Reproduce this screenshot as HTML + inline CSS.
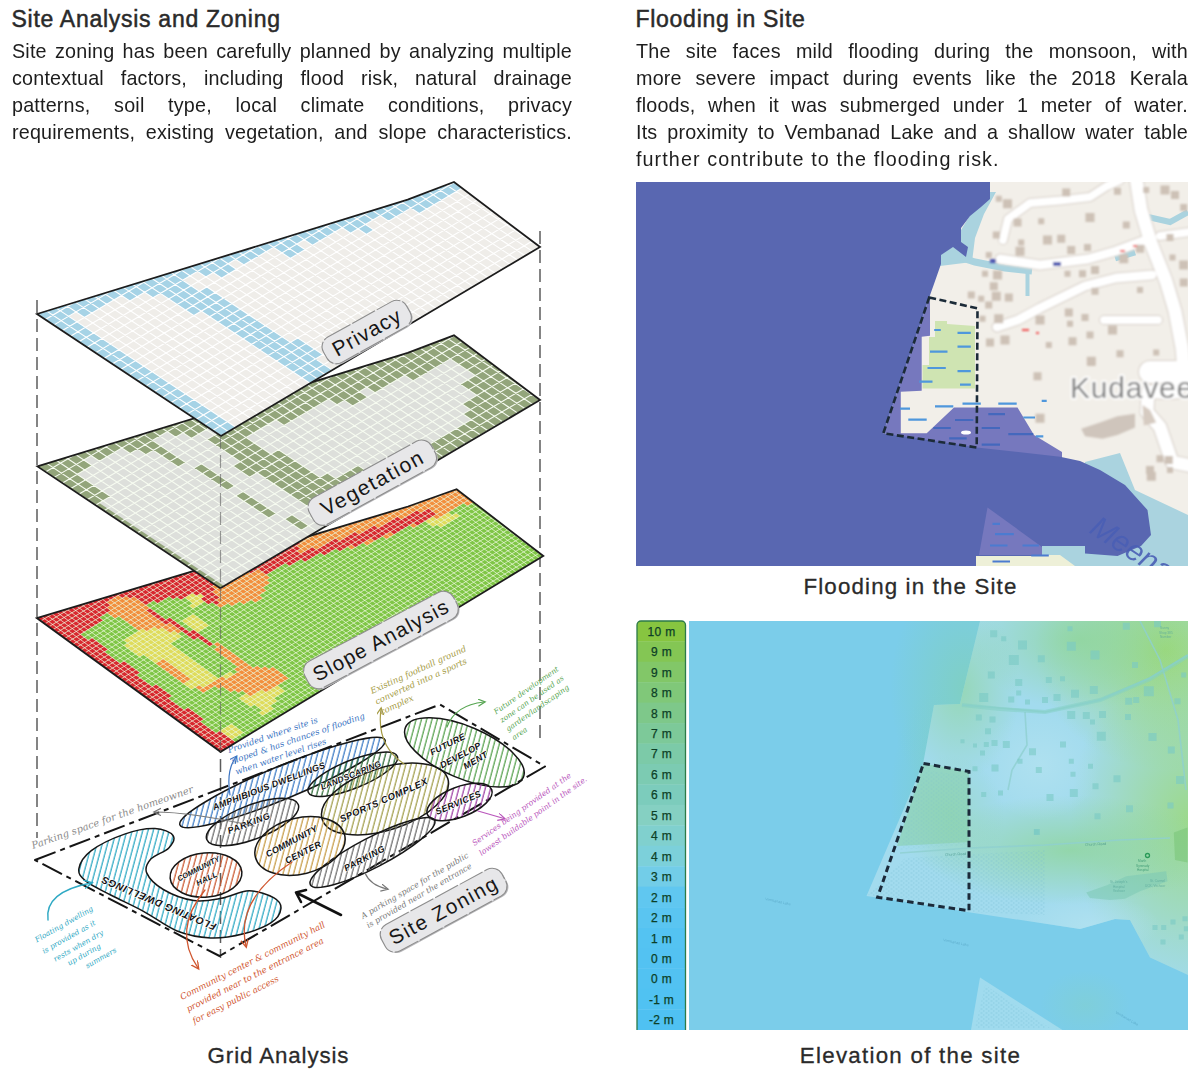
<!DOCTYPE html><html><head><meta charset="utf-8"><title>Site Analysis and Zoning</title><style>
html,body{margin:0;padding:0;background:#fff}
body{width:1200px;height:1084px;position:relative;overflow:hidden;font-family:"Liberation Sans",sans-serif;color:#222}
.t{position:absolute;font-size:23px;letter-spacing:0.72px;white-space:nowrap;color:#2a2a2a;-webkit-text-stroke:0.5px #2a2a2a}
.p{position:absolute;font-size:21px;line-height:27.05px;letter-spacing:0.2px;color:#1d1d1d;transform:scaleX(0.94);transform-origin:0 0}
.p div{text-align:justify;text-align-last:justify;white-space:nowrap;height:27.05px}
.p div.last{text-align-last:left}
.c{position:absolute;font-size:22.3px;white-space:nowrap;color:#2a2a2a;text-align:center;-webkit-text-stroke:0.3px #2a2a2a}
svg{position:absolute;left:0;top:0}
svg text{font-family:"Liberation Sans",sans-serif}
.hw text{font-family:"DejaVu Serif","Liberation Serif",serif;font-style:italic}
</style></head><body>
<div class="t" style="left:11.5px;top:5.5px">Site Analysis and Zoning</div>
<div class="p" style="left:12px;top:36.9px;width:595.7px"><div>Site zoning has been carefully planned by analyzing multiple</div><div>contextual factors, including flood risk, natural drainage</div><div>patterns, soil type, local climate conditions, privacy</div><div>requirements, existing vegetation, and slope characteristics.</div></div>
<div class="t" style="left:635.5px;top:5.5px">Flooding in Site</div>
<div class="p" style="left:636px;top:36.9px;width:587.2px"><div>The site faces mild flooding during the monsoon, with</div><div>more severe impact during events like the 2018 Kerala</div><div>floods, when it was submerged under 1 meter of water.</div><div>Its proximity to Vembanad Lake and a shallow water table</div><div class="last" style="letter-spacing:1.15px">further contribute to the flooding risk.</div></div>
<div class="c" style="left:760.5px;width:300px;top:573.7px;letter-spacing:1.16px">Flooding in the Site</div>
<div class="c" style="left:760.5px;width:300px;top:1042.6px;letter-spacing:1.27px">Elevation of the site</div>
<div class="c" style="left:128.5px;width:300px;top:1042.6px;letter-spacing:0.9px">Grid Analysis</div>
<svg width="1200" height="1084" viewBox="0 0 1200 1084">
<defs></defs>
<line x1="37" y1="300" x2="37" y2="838" stroke="#5c5c5c" stroke-width="1.5" stroke-dasharray="13 6" opacity="1"/>
<line x1="540" y1="231" x2="540" y2="742" stroke="#5c5c5c" stroke-width="1.5" stroke-dasharray="13 6" opacity="1"/>
<line x1="220.5" y1="436" x2="220.5" y2="958" stroke="#5c5c5c" stroke-width="1.5" stroke-dasharray="13 6" opacity="1"/>
<defs>
<pattern id="h_fut" width="5.1" height="10" patternUnits="userSpaceOnUse" patternTransform="rotate(15)"><path d="M1 0V10" stroke="#58a24f" stroke-width="1.25"/></pattern>
<pattern id="h_spo" width="5.1" height="10" patternUnits="userSpaceOnUse" patternTransform="rotate(15)"><path d="M1 0V10" stroke="#a3a04e" stroke-width="1.25"/></pattern>
<pattern id="h_ser" width="5.1" height="10" patternUnits="userSpaceOnUse" patternTransform="rotate(15)"><path d="M1 0V10" stroke="#a044a6" stroke-width="1.25"/></pattern>
<pattern id="h_lan" width="5.1" height="10" patternUnits="userSpaceOnUse" patternTransform="rotate(15)"><path d="M1 0V10" stroke="#2f6d38" stroke-width="1.25"/></pattern>
<pattern id="h_amp" width="5.1" height="10" patternUnits="userSpaceOnUse" patternTransform="rotate(15)"><path d="M1 0V10" stroke="#3d7cc6" stroke-width="1.25"/></pattern>
<pattern id="h_par" width="5.1" height="10" patternUnits="userSpaceOnUse" patternTransform="rotate(15)"><path d="M1 0V10" stroke="#6e6e6e" stroke-width="1.25"/></pattern>
<pattern id="h_cen" width="5.1" height="10" patternUnits="userSpaceOnUse" patternTransform="rotate(15)"><path d="M1 0V10" stroke="#c79d48" stroke-width="1.25"/></pattern>
<pattern id="h_hal" width="5.1" height="10" patternUnits="userSpaceOnUse" patternTransform="rotate(15)"><path d="M1 0V10" stroke="#cb5a32" stroke-width="1.25"/></pattern>
<pattern id="h_flo" width="5.1" height="10" patternUnits="userSpaceOnUse" patternTransform="rotate(15)"><path d="M1 0V10" stroke="#2fa9c4" stroke-width="1.25"/></pattern>
</defs>
<polygon points="35.0,860.0 440.0,704.5 545.0,766.5 219.5,956.0" fill="none" stroke="#151515" stroke-width="2" stroke-dasharray="22 5 5 5" stroke-linejoin="round"/>
<path d="M78.9 868.7C79.8 863.6 83.7 856.5 91.3 850.7C98.9 844.9 113.9 837.8 124.6 834.1C135.2 830.4 146.9 828.3 155.0 828.6C163.1 828.8 170.7 832.3 173.0 835.5C175.3 838.7 172.5 844.0 168.8 847.9C165.1 851.9 154.5 854.9 150.8 859.0C147.2 863.2 144.6 867.8 146.7 872.9C148.8 877.9 155.5 884.8 163.3 889.5C171.1 894.1 184.1 899.1 193.7 900.5C203.4 902.0 212.2 899.9 221.4 898.3C230.6 896.7 240.3 890.9 249.1 890.8C257.9 890.8 268.7 894.8 274.0 897.8C279.3 900.8 281.4 904.7 280.9 908.8C280.5 913.0 277.5 918.5 271.2 922.7C265.0 926.8 253.7 931.2 243.6 933.7C233.4 936.3 221.4 938.4 210.4 937.9C199.3 937.4 188.2 935.4 177.1 931.0C166.1 926.6 155.0 917.6 143.9 911.6C132.9 905.6 120.4 900.1 110.7 895.0C101.0 889.9 91.1 885.5 85.8 881.2C80.5 876.8 78.0 873.8 78.9 868.7Z" fill="url(#h_flo)" stroke="#161616" stroke-width="1.5"/>
<pattern id="he1" width="5.1" height="10" patternUnits="userSpaceOnUse" patternTransform="rotate(37.5)"><path d="M1 0V10" stroke="#3d7cc6" stroke-width="1.25"/></pattern><g transform="translate(282.5 782.5) rotate(-22.5)"><ellipse rx="111" ry="16.5" fill="url(#he1)" stroke="#161616" stroke-width="1.5"/></g>
<pattern id="he2" width="5.1" height="10" patternUnits="userSpaceOnUse" patternTransform="rotate(37)"><path d="M1 0V10" stroke="#2f6d38" stroke-width="1.25"/></pattern><g transform="translate(352.8 774.3) rotate(-22)"><ellipse rx="48" ry="14" fill="url(#he2)" stroke="#161616" stroke-width="1.5"/></g>
<pattern id="he3" width="5.1" height="10" patternUnits="userSpaceOnUse" patternTransform="rotate(36)"><path d="M1 0V10" stroke="#6e6e6e" stroke-width="1.25"/></pattern><g transform="translate(252.5 822) rotate(-21)"><ellipse rx="49" ry="17" fill="url(#he3)" stroke="#161616" stroke-width="1.5"/></g>
<pattern id="he4" width="5.1" height="10" patternUnits="userSpaceOnUse" patternTransform="rotate(-8)"><path d="M1 0V10" stroke="#58a24f" stroke-width="1.25"/></pattern><g transform="translate(464.4 752.4) rotate(23)"><ellipse rx="64" ry="26" fill="url(#he4)" stroke="#161616" stroke-width="1.5"/></g>
<pattern id="he5" width="5.1" height="10" patternUnits="userSpaceOnUse" patternTransform="rotate(33)"><path d="M1 0V10" stroke="#a3a04e" stroke-width="1.25"/></pattern><g transform="translate(385 799) rotate(-18)"><ellipse rx="66" ry="31" fill="url(#he5)" stroke="#161616" stroke-width="1.5"/></g>
<pattern id="he6" width="5.1" height="10" patternUnits="userSpaceOnUse" patternTransform="rotate(36)"><path d="M1 0V10" stroke="#a044a6" stroke-width="1.25"/></pattern><g transform="translate(459.5 802) rotate(-21)"><ellipse rx="34.5" ry="15" fill="url(#he6)" stroke="#161616" stroke-width="1.5"/></g>
<pattern id="he7" width="5.1" height="10" patternUnits="userSpaceOnUse" patternTransform="rotate(42.5)"><path d="M1 0V10" stroke="#6e6e6e" stroke-width="1.25"/></pattern><g transform="translate(372.5 852.5) rotate(-27.5)"><ellipse rx="70" ry="15" fill="url(#he7)" stroke="#161616" stroke-width="1.5"/></g>
<pattern id="he8" width="5.1" height="10" patternUnits="userSpaceOnUse" patternTransform="rotate(29)"><path d="M1 0V10" stroke="#c79d48" stroke-width="1.25"/></pattern><g transform="translate(300 846) rotate(-14)"><ellipse rx="46" ry="28" fill="url(#he8)" stroke="#161616" stroke-width="1.5"/></g>
<pattern id="he9" width="5.1" height="10" patternUnits="userSpaceOnUse" patternTransform="rotate(20)"><path d="M1 0V10" stroke="#cb5a32" stroke-width="1.25"/></pattern><g transform="translate(206 875) rotate(-5)"><ellipse rx="36" ry="22" fill="url(#he9)" stroke="#161616" stroke-width="1.5"/></g>
<text transform="translate(270 789) rotate(-21)" font-size="9" font-weight="bold" text-anchor="middle" fill="#111" letter-spacing="0.3" stroke="#fff" stroke-width="1.2" paint-order="stroke" font-style="italic">AMPHIBIOUS DWELLINGS</text>
<text transform="translate(352 778) rotate(-22)" font-size="8.5" font-weight="bold" text-anchor="middle" fill="#111" letter-spacing="0.2" stroke="#fff" stroke-width="1.2" paint-order="stroke" font-style="italic">LANDSCAPING</text>
<text transform="translate(250 826) rotate(-21)" font-size="9" font-weight="bold" text-anchor="middle" fill="#111" letter-spacing="0.6" stroke="#fff" stroke-width="1.2" paint-order="stroke" font-style="italic">PARKING</text>
<text transform="translate(385 803) rotate(-24)" font-size="9.5" font-weight="bold" text-anchor="middle" fill="#111" letter-spacing="0.5" stroke="#fff" stroke-width="1.2" paint-order="stroke" font-style="italic">SPORTS COMPLEX</text>
<text transform="translate(459.5 805.5) rotate(-23)" font-size="9" font-weight="bold" text-anchor="middle" fill="#111" letter-spacing="0.4" stroke="#fff" stroke-width="1.2" paint-order="stroke" font-style="italic">SERVICES</text>
<text transform="translate(366 861) rotate(-28)" font-size="9" font-weight="bold" text-anchor="middle" fill="#111" letter-spacing="0.6" stroke="#fff" stroke-width="1.2" paint-order="stroke" font-style="italic">PARKING</text>
<text transform="translate(293 844) rotate(-28)" font-size="9" font-weight="bold" text-anchor="middle" fill="#111" letter-spacing="0.2" stroke="#fff" stroke-width="1.2" paint-order="stroke" font-style="italic">COMMUNITY</text>
<text transform="translate(304.5 855) rotate(-27)" font-size="9" font-weight="bold" text-anchor="middle" fill="#111" letter-spacing="0.4" stroke="#fff" stroke-width="1.2" paint-order="stroke" font-style="italic">CENTER</text>
<text transform="translate(199.5 871) rotate(-27)" font-size="7.5" font-weight="bold" text-anchor="middle" fill="#111" letter-spacing="0" stroke="#fff" stroke-width="1.2" paint-order="stroke" font-style="italic">COMMUNITY</text>
<text transform="translate(208 881) rotate(-26)" font-size="8" font-weight="bold" text-anchor="middle" fill="#111" letter-spacing="0.3" stroke="#fff" stroke-width="1.2" paint-order="stroke" font-style="italic">HALL</text>
<text transform="translate(449 747) rotate(-27)" font-size="9" font-weight="bold" text-anchor="middle" fill="#111" letter-spacing="0.3" stroke="#fff" stroke-width="1.2" paint-order="stroke" font-style="italic">FUTURE</text>
<text transform="translate(462 758) rotate(-28)" font-size="9" font-weight="bold" text-anchor="middle" fill="#111" letter-spacing="0.3" stroke="#fff" stroke-width="1.2" paint-order="stroke" font-style="italic">DEVELOP</text>
<text transform="translate(477 763) rotate(-30)" font-size="9" font-weight="bold" text-anchor="middle" fill="#111" letter-spacing="0.3" stroke="#fff" stroke-width="1.2" paint-order="stroke" font-style="italic">MENT</text>
<text transform="translate(160 900) rotate(203)" font-size="10" font-weight="bold" text-anchor="middle" fill="#111" letter-spacing="0.6" stroke="#fff" stroke-width="1.2" paint-order="stroke" font-style="italic">FLOATING DWELLINGS</text>
<path d="M341 915 L297 893 M306 890 L296 892.5 L301 902" fill="none" stroke="#111" stroke-width="2.6" stroke-linecap="round" stroke-linejoin="round"/>
<g transform="translate(33 849) rotate(-19.5)" class="hw" font-size="9.8" fill="#8a8a8a" letter-spacing="0.1"><text x="0" y="0">Parking space for the homeowner</text></g>
<g transform="translate(229 753) rotate(-19)" class="hw" font-size="8.4" fill="#3b74c2" letter-spacing="0"><text x="0" y="0.0">Provided where site is</text><text x="0" y="11.5">sloped &amp; has chances of flooding</text><text x="0" y="23.0">when water level rises</text></g>
<g transform="translate(372 694) rotate(-24.5)" class="hw" font-size="8.5" fill="#a59b45" letter-spacing="0"><text x="0" y="0.0">Existing football ground</text><text x="0" y="11.5">converted into a sports</text><text x="0" y="23.0">complex</text></g>
<g transform="translate(496 714.5) rotate(-35)" class="hw" font-size="7.5" fill="#58a653" letter-spacing="0"><text x="0" y="0.0">Future development</text><text x="0" y="10.5">zone can be used as</text><text x="0" y="21.0">garden/landscaping</text><text x="0" y="31.5">area</text></g>
<g transform="translate(474.5 846) rotate(-35.5)" class="hw" font-size="7.7" fill="#b955bb" letter-spacing="0"><text x="0" y="0.0">Services being provided at the</text><text x="0" y="12.2"> lowest buildable point in the site.</text></g>
<g transform="translate(363 919) rotate(-30.3)" class="hw" font-size="8.0" fill="#777" letter-spacing="0"><text x="0" y="0.0">A parking space for the public</text><text x="0" y="10.8"> is provided near the entrance</text></g>
<g transform="translate(182 1000) rotate(-27)" class="hw" font-size="8.6" fill="#d0562f" letter-spacing="0"><text x="0" y="0.0">Community center &amp; community hall</text><text x="0" y="13.5">provided near to the entrance area</text><text x="0" y="27.0">for easy public access</text></g>
<g transform="translate(36.7 942.5) rotate(-29.5)" class="hw" font-size="7.4" fill="#2fa9c4" letter-spacing="0"><text x="0" y="0">Floating dwelling</text></g>
<g transform="translate(44 953.8) rotate(-29.5)" class="hw" font-size="7.4" fill="#2fa9c4" letter-spacing="0"><text x="0" y="0">is provided as it</text></g>
<g transform="translate(55.3 961.8) rotate(-29.5)" class="hw" font-size="7.4" fill="#2fa9c4" letter-spacing="0"><text x="0" y="0">rests when dry</text></g>
<g transform="translate(69.3 965.8) rotate(-29.5)" class="hw" font-size="7.4" fill="#2fa9c4" letter-spacing="0"><text x="0" y="0">up during</text></g>
<g transform="translate(87.3 968.5) rotate(-29.5)" class="hw" font-size="7.4" fill="#2fa9c4" letter-spacing="0"><text x="0" y="0">summers</text></g>
<marker id="ah58a653" markerWidth="8" markerHeight="8" refX="5" refY="3" orient="auto"><path d="M0 0L6 3L0 6" fill="none" stroke="#58a653" stroke-width="1"/></marker><path d="M447 727 Q455 705 484 702" fill="none" stroke="#58a653" stroke-width="1.2" stroke-linecap="round" marker-end="url(#ah58a653)"/>
<marker id="aha59b45" markerWidth="8" markerHeight="8" refX="5" refY="3" orient="auto"><path d="M0 0L6 3L0 6" fill="none" stroke="#a59b45" stroke-width="1"/></marker><path d="M404 764 Q376 745 381 709" fill="none" stroke="#a59b45" stroke-width="1.2" stroke-linecap="round" marker-end="url(#aha59b45)"/>
<marker id="ahb955bb" markerWidth="8" markerHeight="8" refX="5" refY="3" orient="auto"><path d="M0 0L6 3L0 6" fill="none" stroke="#b955bb" stroke-width="1"/></marker><path d="M478 811 L504 818.5" fill="none" stroke="#b955bb" stroke-width="1.2" stroke-linecap="round" marker-end="url(#ahb955bb)"/>
<marker id="ah777" markerWidth="8" markerHeight="8" refX="5" refY="3" orient="auto"><path d="M0 0L6 3L0 6" fill="none" stroke="#777" stroke-width="1"/></marker><path d="M365 873 Q370 885 387 889" fill="none" stroke="#777" stroke-width="1.2" stroke-linecap="round" marker-end="url(#ah777)"/>
<path d="M254 826 Q190 812 155 812" fill="none" stroke="#777" stroke-width="1.2" stroke-linecap="round" marker-end="url(#ah777)"/>
<marker id="ah3b74c2" markerWidth="8" markerHeight="8" refX="5" refY="3" orient="auto"><path d="M0 0L6 3L0 6" fill="none" stroke="#3b74c2" stroke-width="1"/></marker><path d="M230 795 Q226 770 236 757" fill="none" stroke="#3b74c2" stroke-width="1.2" stroke-linecap="round" marker-end="url(#ah3b74c2)"/>
<marker id="ah2fa9c4" markerWidth="8" markerHeight="8" refX="5" refY="3" orient="auto"><path d="M0 0L6 3L0 6" fill="none" stroke="#2fa9c4" stroke-width="1"/></marker><path d="M48 920 Q44 892 91 883" fill="none" stroke="#2fa9c4" stroke-width="1.4" stroke-linecap="round" marker-end="url(#ah2fa9c4)"/>
<marker id="ahd0562f" markerWidth="8" markerHeight="8" refX="5" refY="3" orient="auto"><path d="M0 0L6 3L0 6" fill="none" stroke="#d0562f" stroke-width="1"/></marker><path d="M205 890 Q172 930 198 968" fill="none" stroke="#d0562f" stroke-width="1.3" stroke-linecap="round" marker-end="url(#ahd0562f)"/>
<path d="M292 862 Q235 900 246 946" fill="none" stroke="#d0562f" stroke-width="1.3" stroke-linecap="round" marker-end="url(#ahd0562f)"/>
<clipPath id="cl3"><polygon points="36.8,618.1 408.0,506.5 456.6,489.2 543.3,556.0 220.6,751.8"/></clipPath>
<g clip-path="url(#cl3)">
<polygon points="36.8,618.1 408.0,506.5 456.6,489.2 543.3,556.0 220.6,751.8" fill="#7fc646"/>
<g transform="matrix(-3.9957 -2.9065 3.8417 -2.3310 220.60 751.80)">
<rect x="-1" y="-1" width="1" height="4" fill="#d8282f"/>
<rect x="0" y="-1" width="1" height="5" fill="#d8282f"/>
<rect x="1" y="-1" width="1" height="5" fill="#d8282f"/>
<rect x="1" y="4" width="1" height="3" fill="#dfdc5c"/>
<rect x="2" y="-1" width="1" height="5" fill="#d8282f"/>
<rect x="2" y="4" width="1" height="3" fill="#dfdc5c"/>
<rect x="2" y="13" width="1" height="3" fill="#dfdc5c"/>
<rect x="3" y="-1" width="1" height="5" fill="#d8282f"/>
<rect x="3" y="4" width="1" height="3" fill="#dfdc5c"/>
<rect x="3" y="14" width="1" height="4" fill="#dfdc5c"/>
<rect x="4" y="-1" width="1" height="4" fill="#d8282f"/>
<rect x="4" y="14" width="1" height="7" fill="#dfdc5c"/>
<rect x="5" y="-1" width="1" height="4" fill="#d8282f"/>
<rect x="5" y="13" width="1" height="8" fill="#dfdc5c"/>
<rect x="6" y="-1" width="1" height="4" fill="#d8282f"/>
<rect x="6" y="13" width="1" height="5" fill="#dfdc5c"/>
<rect x="6" y="18" width="1" height="6" fill="#f28f3d"/>
<rect x="7" y="-1" width="1" height="4" fill="#d8282f"/>
<rect x="7" y="13" width="1" height="2" fill="#dfdc5c"/>
<rect x="7" y="15" width="1" height="9" fill="#f28f3d"/>
<rect x="8" y="-1" width="1" height="5" fill="#d8282f"/>
<rect x="8" y="15" width="1" height="9" fill="#f28f3d"/>
<rect x="9" y="-1" width="1" height="5" fill="#d8282f"/>
<rect x="9" y="14" width="1" height="10" fill="#f28f3d"/>
<rect x="10" y="-1" width="1" height="5" fill="#d8282f"/>
<rect x="10" y="13" width="1" height="10" fill="#f28f3d"/>
<rect x="11" y="-1" width="1" height="5" fill="#d8282f"/>
<rect x="11" y="13" width="1" height="9" fill="#f28f3d"/>
<rect x="12" y="-1" width="1" height="4" fill="#d8282f"/>
<rect x="12" y="12" width="1" height="9" fill="#f28f3d"/>
<rect x="13" y="-1" width="1" height="4" fill="#d8282f"/>
<rect x="13" y="9" width="1" height="6" fill="#f28f3d"/>
<rect x="13" y="15" width="1" height="2" fill="#dfdc5c"/>
<rect x="13" y="18" width="1" height="3" fill="#f28f3d"/>
<rect x="14" y="-1" width="1" height="4" fill="#d8282f"/>
<rect x="14" y="9" width="1" height="1" fill="#f28f3d"/>
<rect x="14" y="10" width="1" height="4" fill="#dfdc5c"/>
<rect x="14" y="19" width="1" height="2" fill="#f28f3d"/>
<rect x="15" y="-1" width="1" height="4" fill="#d8282f"/>
<rect x="15" y="8" width="1" height="6" fill="#dfdc5c"/>
<rect x="15" y="19" width="1" height="2" fill="#f28f3d"/>
<rect x="16" y="-1" width="1" height="5" fill="#d8282f"/>
<rect x="16" y="8" width="1" height="6" fill="#dfdc5c"/>
<rect x="16" y="19" width="1" height="2" fill="#f28f3d"/>
<rect x="17" y="-1" width="1" height="5" fill="#d8282f"/>
<rect x="17" y="8" width="1" height="2" fill="#f28f3d"/>
<rect x="17" y="10" width="1" height="4" fill="#dfdc5c"/>
<rect x="17" y="19" width="1" height="2" fill="#f28f3d"/>
<rect x="17" y="75" width="1" height="5" fill="#dfdc5c"/>
<rect x="18" y="-1" width="1" height="5" fill="#d8282f"/>
<rect x="18" y="8" width="1" height="2" fill="#f28f3d"/>
<rect x="18" y="10" width="1" height="4" fill="#dfdc5c"/>
<rect x="18" y="19" width="1" height="2" fill="#f28f3d"/>
<rect x="18" y="74" width="1" height="5" fill="#dfdc5c"/>
<rect x="18" y="83" width="1" height="2" fill="#f28f3d"/>
<rect x="19" y="-1" width="1" height="5" fill="#d8282f"/>
<rect x="19" y="8" width="1" height="2" fill="#f28f3d"/>
<rect x="19" y="10" width="1" height="4" fill="#dfdc5c"/>
<rect x="19" y="19" width="1" height="2" fill="#f28f3d"/>
<rect x="19" y="74" width="1" height="2" fill="#dfdc5c"/>
<rect x="19" y="76" width="1" height="10" fill="#f28f3d"/>
<rect x="20" y="-1" width="1" height="4" fill="#d8282f"/>
<rect x="20" y="8" width="1" height="2" fill="#f28f3d"/>
<rect x="20" y="10" width="1" height="4" fill="#dfdc5c"/>
<rect x="20" y="20" width="1" height="1" fill="#f28f3d"/>
<rect x="20" y="71" width="1" height="1" fill="#f28f3d"/>
<rect x="20" y="72" width="1" height="5" fill="#d8282f"/>
<rect x="20" y="77" width="1" height="9" fill="#f28f3d"/>
<rect x="21" y="-1" width="1" height="4" fill="#d8282f"/>
<rect x="21" y="8" width="1" height="2" fill="#f28f3d"/>
<rect x="21" y="10" width="1" height="4" fill="#dfdc5c"/>
<rect x="21" y="19" width="1" height="1" fill="#d8282f"/>
<rect x="21" y="65" width="1" height="2" fill="#f28f3d"/>
<rect x="21" y="67" width="1" height="10" fill="#d8282f"/>
<rect x="21" y="77" width="1" height="9" fill="#f28f3d"/>
<rect x="22" y="-1" width="1" height="4" fill="#d8282f"/>
<rect x="22" y="8" width="1" height="2" fill="#f28f3d"/>
<rect x="22" y="10" width="1" height="4" fill="#dfdc5c"/>
<rect x="22" y="19" width="1" height="1" fill="#d8282f"/>
<rect x="22" y="61" width="1" height="2" fill="#f28f3d"/>
<rect x="22" y="63" width="1" height="12" fill="#d8282f"/>
<rect x="22" y="75" width="1" height="11" fill="#f28f3d"/>
<rect x="23" y="-1" width="1" height="4" fill="#d8282f"/>
<rect x="23" y="8" width="1" height="2" fill="#f28f3d"/>
<rect x="23" y="10" width="1" height="4" fill="#dfdc5c"/>
<rect x="23" y="19" width="1" height="1" fill="#d8282f"/>
<rect x="23" y="58" width="1" height="1" fill="#f28f3d"/>
<rect x="23" y="59" width="1" height="12" fill="#d8282f"/>
<rect x="23" y="71" width="1" height="15" fill="#f28f3d"/>
<rect x="24" y="-1" width="1" height="5" fill="#d8282f"/>
<rect x="24" y="8" width="1" height="6" fill="#dfdc5c"/>
<rect x="24" y="18" width="1" height="2" fill="#d8282f"/>
<rect x="24" y="34" width="1" height="2" fill="#f28f3d"/>
<rect x="24" y="56" width="1" height="10" fill="#d8282f"/>
<rect x="24" y="66" width="1" height="17" fill="#f28f3d"/>
<rect x="25" y="-1" width="1" height="5" fill="#d8282f"/>
<rect x="25" y="8" width="1" height="6" fill="#dfdc5c"/>
<rect x="25" y="18" width="1" height="2" fill="#d8282f"/>
<rect x="25" y="20" width="1" height="3" fill="#dfdc5c"/>
<rect x="25" y="32" width="1" height="6" fill="#f28f3d"/>
<rect x="25" y="53" width="1" height="9" fill="#d8282f"/>
<rect x="25" y="62" width="1" height="18" fill="#f28f3d"/>
<rect x="26" y="-1" width="1" height="5" fill="#d8282f"/>
<rect x="26" y="8" width="1" height="9" fill="#dfdc5c"/>
<rect x="26" y="18" width="1" height="1" fill="#d8282f"/>
<rect x="26" y="20" width="1" height="3" fill="#dfdc5c"/>
<rect x="26" y="30" width="1" height="10" fill="#f28f3d"/>
<rect x="26" y="49" width="1" height="9" fill="#d8282f"/>
<rect x="26" y="58" width="1" height="18" fill="#f28f3d"/>
<rect x="27" y="-1" width="1" height="5" fill="#d8282f"/>
<rect x="27" y="7" width="1" height="10" fill="#dfdc5c"/>
<rect x="27" y="17" width="1" height="1" fill="#f28f3d"/>
<rect x="27" y="18" width="1" height="1" fill="#d8282f"/>
<rect x="27" y="20" width="1" height="3" fill="#dfdc5c"/>
<rect x="27" y="28" width="1" height="13" fill="#f28f3d"/>
<rect x="27" y="46" width="1" height="7" fill="#d8282f"/>
<rect x="27" y="53" width="1" height="19" fill="#f28f3d"/>
<rect x="28" y="-1" width="1" height="4" fill="#d8282f"/>
<rect x="28" y="7" width="1" height="9" fill="#dfdc5c"/>
<rect x="28" y="16" width="1" height="2" fill="#f28f3d"/>
<rect x="28" y="18" width="1" height="1" fill="#d8282f"/>
<rect x="28" y="20" width="1" height="3" fill="#dfdc5c"/>
<rect x="28" y="28" width="1" height="1" fill="#d8282f"/>
<rect x="28" y="29" width="1" height="12" fill="#f28f3d"/>
<rect x="28" y="41" width="1" height="9" fill="#d8282f"/>
<rect x="28" y="50" width="1" height="19" fill="#f28f3d"/>
<rect x="29" y="-1" width="1" height="4" fill="#d8282f"/>
<rect x="29" y="7" width="1" height="9" fill="#dfdc5c"/>
<rect x="29" y="16" width="1" height="2" fill="#f28f3d"/>
<rect x="29" y="18" width="1" height="1" fill="#d8282f"/>
<rect x="29" y="27" width="1" height="3" fill="#d8282f"/>
<rect x="29" y="30" width="1" height="11" fill="#f28f3d"/>
<rect x="29" y="41" width="1" height="10" fill="#d8282f"/>
<rect x="29" y="51" width="1" height="14" fill="#f28f3d"/>
<rect x="30" y="-1" width="1" height="4" fill="#d8282f"/>
<rect x="30" y="7" width="1" height="8" fill="#dfdc5c"/>
<rect x="30" y="15" width="1" height="2" fill="#f28f3d"/>
<rect x="30" y="17" width="1" height="2" fill="#d8282f"/>
<rect x="30" y="24" width="1" height="3" fill="#dfdc5c"/>
<rect x="30" y="27" width="1" height="3" fill="#d8282f"/>
<rect x="30" y="30" width="1" height="9" fill="#f28f3d"/>
<rect x="30" y="39" width="1" height="13" fill="#d8282f"/>
<rect x="30" y="52" width="1" height="10" fill="#f28f3d"/>
<rect x="31" y="-1" width="1" height="4" fill="#d8282f"/>
<rect x="31" y="8" width="1" height="5" fill="#dfdc5c"/>
<rect x="31" y="13" width="1" height="4" fill="#f28f3d"/>
<rect x="31" y="17" width="1" height="1" fill="#d8282f"/>
<rect x="31" y="25" width="1" height="3" fill="#dfdc5c"/>
<rect x="31" y="28" width="1" height="3" fill="#d8282f"/>
<rect x="31" y="31" width="1" height="3" fill="#f28f3d"/>
<rect x="31" y="34" width="1" height="19" fill="#d8282f"/>
<rect x="31" y="53" width="1" height="5" fill="#f28f3d"/>
<rect x="32" y="-1" width="1" height="5" fill="#d8282f"/>
<rect x="32" y="12" width="1" height="5" fill="#f28f3d"/>
<rect x="32" y="17" width="1" height="1" fill="#d8282f"/>
<rect x="32" y="25" width="1" height="2" fill="#dfdc5c"/>
<rect x="32" y="27" width="1" height="27" fill="#d8282f"/>
<rect x="33" y="-1" width="1" height="5" fill="#d8282f"/>
<rect x="33" y="12" width="1" height="5" fill="#f28f3d"/>
<rect x="33" y="17" width="1" height="1" fill="#d8282f"/>
<rect x="33" y="24" width="1" height="27" fill="#d8282f"/>
<rect x="34" y="-1" width="1" height="5" fill="#d8282f"/>
<rect x="34" y="12" width="1" height="5" fill="#f28f3d"/>
<rect x="34" y="17" width="1" height="1" fill="#d8282f"/>
<rect x="34" y="23" width="1" height="24" fill="#d8282f"/>
<rect x="35" y="-1" width="1" height="5" fill="#d8282f"/>
<rect x="35" y="12" width="1" height="6" fill="#f28f3d"/>
<rect x="35" y="20" width="1" height="24" fill="#d8282f"/>
<rect x="36" y="-1" width="1" height="4" fill="#d8282f"/>
<rect x="36" y="12" width="1" height="6" fill="#f28f3d"/>
<rect x="36" y="18" width="1" height="22" fill="#d8282f"/>
<rect x="37" y="-1" width="1" height="4" fill="#d8282f"/>
<rect x="37" y="11" width="1" height="7" fill="#f28f3d"/>
<rect x="37" y="18" width="1" height="18" fill="#d8282f"/>
<rect x="38" y="-1" width="1" height="10" fill="#d8282f"/>
<rect x="38" y="11" width="1" height="7" fill="#f28f3d"/>
<rect x="38" y="18" width="1" height="15" fill="#d8282f"/>
<rect x="39" y="-1" width="1" height="13" fill="#d8282f"/>
<rect x="39" y="12" width="1" height="5" fill="#f28f3d"/>
<rect x="39" y="17" width="1" height="12" fill="#d8282f"/>
<rect x="40" y="-1" width="1" height="14" fill="#d8282f"/>
<rect x="40" y="13" width="1" height="3" fill="#f28f3d"/>
<rect x="40" y="16" width="1" height="10" fill="#d8282f"/>
<rect x="41" y="-1" width="1" height="23" fill="#d8282f"/>
<rect x="42" y="-1" width="1" height="19" fill="#d8282f"/>
<rect x="43" y="-1" width="1" height="16" fill="#d8282f"/>
<rect x="44" y="-1" width="1" height="12" fill="#d8282f"/>
<rect x="45" y="-1" width="1" height="9" fill="#d8282f"/>
<rect x="46" y="-1" width="1" height="5" fill="#d8282f"/>
<path d="M-1 -1V86M0 -1V86M1 -1V86M2 -1V86M3 -1V86M4 -1V86M5 -1V86M6 -1V86M7 -1V86M8 -1V86M9 -1V86M10 -1V86M11 -1V86M12 -1V86M13 -1V86M14 -1V86M15 -1V86M16 -1V86M17 -1V86M18 -1V86M19 -1V86M20 -1V86M21 -1V86M22 -1V86M23 -1V86M24 -1V86M25 -1V86M26 -1V86M27 -1V86M28 -1V86M29 -1V86M30 -1V86M31 -1V86M32 -1V86M33 -1V86M34 -1V86M35 -1V86M36 -1V86M37 -1V86M38 -1V86M39 -1V86M40 -1V86M41 -1V86M42 -1V86M43 -1V86M44 -1V86M45 -1V86M46 -1V86M47 -1V86M-1 -1H47M-1 0H47M-1 1H47M-1 2H47M-1 3H47M-1 4H47M-1 5H47M-1 6H47M-1 7H47M-1 8H47M-1 9H47M-1 10H47M-1 11H47M-1 12H47M-1 13H47M-1 14H47M-1 15H47M-1 16H47M-1 17H47M-1 18H47M-1 19H47M-1 20H47M-1 21H47M-1 22H47M-1 23H47M-1 24H47M-1 25H47M-1 26H47M-1 27H47M-1 28H47M-1 29H47M-1 30H47M-1 31H47M-1 32H47M-1 33H47M-1 34H47M-1 35H47M-1 36H47M-1 37H47M-1 38H47M-1 39H47M-1 40H47M-1 41H47M-1 42H47M-1 43H47M-1 44H47M-1 45H47M-1 46H47M-1 47H47M-1 48H47M-1 49H47M-1 50H47M-1 51H47M-1 52H47M-1 53H47M-1 54H47M-1 55H47M-1 56H47M-1 57H47M-1 58H47M-1 59H47M-1 60H47M-1 61H47M-1 62H47M-1 63H47M-1 64H47M-1 65H47M-1 66H47M-1 67H47M-1 68H47M-1 69H47M-1 70H47M-1 71H47M-1 72H47M-1 73H47M-1 74H47M-1 75H47M-1 76H47M-1 77H47M-1 78H47M-1 79H47M-1 80H47M-1 81H47M-1 82H47M-1 83H47M-1 84H47M-1 85H47M-1 86H47" stroke="#f3fbe6" stroke-width="0.7" fill="none" vector-effect="non-scaling-stroke"/>
</g></g>
<polygon points="36.8,618.1 408.0,506.5 456.6,489.2 543.3,556.0 220.6,751.8" fill="none" stroke="#1c1c1c" stroke-width="1.8" stroke-linejoin="miter"/>
<clipPath id="cl2"><polygon points="37.4,466.4 407.7,352.9 454.0,335.3 540.0,400.0 220.3,588.3"/></clipPath>
<g clip-path="url(#cl2)">
<polygon points="37.4,466.4 407.7,352.9 454.0,335.3 540.0,400.0 220.3,588.3" fill="#dddfdb"/>
<g transform="matrix(-8.3136 -5.5409 7.4349 -4.3791 220.30 588.30)">
<rect x="0" y="22" width="1" height="21" fill="#93a57b"/>
<rect x="1" y="12" width="1" height="1" fill="#93a57b"/>
<rect x="1" y="22" width="1" height="22" fill="#93a57b"/>
<rect x="2" y="12" width="1" height="1" fill="#93a57b"/>
<rect x="2" y="21" width="1" height="8" fill="#93a57b"/>
<rect x="2" y="36" width="1" height="8" fill="#93a57b"/>
<rect x="3" y="15" width="1" height="8" fill="#93a57b"/>
<rect x="3" y="37" width="1" height="7" fill="#93a57b"/>
<rect x="4" y="11" width="1" height="1" fill="#93a57b"/>
<rect x="4" y="15" width="1" height="5" fill="#93a57b"/>
<rect x="4" y="39" width="1" height="5" fill="#93a57b"/>
<rect x="5" y="11" width="1" height="1" fill="#93a57b"/>
<rect x="5" y="15" width="1" height="4" fill="#93a57b"/>
<rect x="5" y="39" width="1" height="5" fill="#93a57b"/>
<rect x="6" y="11" width="1" height="1" fill="#93a57b"/>
<rect x="6" y="15" width="1" height="4" fill="#93a57b"/>
<rect x="6" y="41" width="1" height="3" fill="#93a57b"/>
<rect x="7" y="11" width="1" height="1" fill="#93a57b"/>
<rect x="7" y="15" width="1" height="4" fill="#93a57b"/>
<rect x="7" y="41" width="1" height="3" fill="#93a57b"/>
<rect x="8" y="15" width="1" height="4" fill="#93a57b"/>
<rect x="8" y="41" width="1" height="3" fill="#93a57b"/>
<rect x="9" y="11" width="1" height="1" fill="#93a57b"/>
<rect x="9" y="14" width="1" height="5" fill="#93a57b"/>
<rect x="9" y="36" width="1" height="9" fill="#93a57b"/>
<rect x="10" y="11" width="1" height="1" fill="#93a57b"/>
<rect x="10" y="14" width="1" height="4" fill="#93a57b"/>
<rect x="10" y="29" width="1" height="2" fill="#93a57b"/>
<rect x="10" y="32" width="1" height="13" fill="#93a57b"/>
<rect x="11" y="11" width="1" height="1" fill="#93a57b"/>
<rect x="11" y="15" width="1" height="3" fill="#93a57b"/>
<rect x="11" y="28" width="1" height="17" fill="#93a57b"/>
<rect x="12" y="11" width="1" height="1" fill="#93a57b"/>
<rect x="12" y="15" width="1" height="3" fill="#93a57b"/>
<rect x="12" y="22" width="1" height="21" fill="#93a57b"/>
<rect x="12" y="44" width="1" height="1" fill="#93a57b"/>
<rect x="13" y="15" width="1" height="25" fill="#93a57b"/>
<rect x="14" y="10" width="1" height="1" fill="#93a57b"/>
<rect x="14" y="15" width="1" height="19" fill="#93a57b"/>
<rect x="15" y="-1" width="1" height="3" fill="#93a57b"/>
<rect x="15" y="10" width="1" height="1" fill="#93a57b"/>
<rect x="15" y="20" width="1" height="10" fill="#93a57b"/>
<rect x="15" y="32" width="1" height="1" fill="#93a57b"/>
<rect x="16" y="-1" width="1" height="3" fill="#93a57b"/>
<rect x="16" y="10" width="1" height="1" fill="#93a57b"/>
<rect x="16" y="14" width="1" height="14" fill="#93a57b"/>
<rect x="17" y="-1" width="1" height="3" fill="#93a57b"/>
<rect x="17" y="9" width="1" height="2" fill="#93a57b"/>
<rect x="17" y="13" width="1" height="9" fill="#93a57b"/>
<rect x="18" y="-1" width="1" height="3" fill="#93a57b"/>
<rect x="18" y="8" width="1" height="10" fill="#93a57b"/>
<rect x="18" y="20" width="1" height="2" fill="#93a57b"/>
<rect x="19" y="-1" width="1" height="5" fill="#93a57b"/>
<rect x="19" y="5" width="1" height="11" fill="#93a57b"/>
<rect x="20" y="-1" width="1" height="12" fill="#93a57b"/>
<rect x="21" y="-1" width="1" height="8" fill="#93a57b"/>
<rect x="21" y="8" width="1" height="2" fill="#93a57b"/>
<rect x="22" y="-1" width="1" height="5" fill="#93a57b"/>
<rect x="23" y="-1" width="1" height="4" fill="#93a57b"/>
<rect x="0" y="0" width="17" height="0.5" fill="#93a57b"/>
<path d="M-1 -1V45M0 -1V45M1 -1V45M2 -1V45M3 -1V45M4 -1V45M5 -1V45M6 -1V45M7 -1V45M8 -1V45M9 -1V45M10 -1V45M11 -1V45M12 -1V45M13 -1V45M14 -1V45M15 -1V45M16 -1V45M17 -1V45M18 -1V45M19 -1V45M20 -1V45M21 -1V45M22 -1V45M23 -1V45M24 -1V45M-1 -1H24M-1 0H24M-1 1H24M-1 2H24M-1 3H24M-1 4H24M-1 5H24M-1 6H24M-1 7H24M-1 8H24M-1 9H24M-1 10H24M-1 11H24M-1 12H24M-1 13H24M-1 14H24M-1 15H24M-1 16H24M-1 17H24M-1 18H24M-1 19H24M-1 20H24M-1 21H24M-1 22H24M-1 23H24M-1 24H24M-1 25H24M-1 26H24M-1 27H24M-1 28H24M-1 29H24M-1 30H24M-1 31H24M-1 32H24M-1 33H24M-1 34H24M-1 35H24M-1 36H24M-1 37H24M-1 38H24M-1 39H24M-1 40H24M-1 41H24M-1 42H24M-1 43H24M-1 44H24M-1 45H24" stroke="#f6fbf0" stroke-width="1.1" fill="none" vector-effect="non-scaling-stroke"/>
</g></g>
<polygon points="37.4,466.4 407.7,352.9 454.0,335.3 540.0,400.0 220.3,588.3" fill="none" stroke="#1c1c1c" stroke-width="1.8" stroke-linejoin="miter"/>
<clipPath id="cl1"><polygon points="37.0,314.0 407.7,199.7 454.0,182.0 540.0,247.0 221.0,436.0"/></clipPath>
<g clip-path="url(#cl1)">
<polygon points="37.0,314.0 407.7,199.7 454.0,182.0 540.0,247.0 221.0,436.0" fill="#efede9"/>
<g transform="matrix(-8.3636 -5.5455 7.4186 -4.3953 221.00 436.00)">
<rect x="-1" y="-2" width="1" height="4" fill="#a6d3e6"/>
<rect x="-1" y="12" width="1" height="3" fill="#a6d3e6"/>
<rect x="0" y="-2" width="1" height="4" fill="#a6d3e6"/>
<rect x="0" y="12" width="1" height="3" fill="#a6d3e6"/>
<rect x="1" y="-2" width="1" height="4" fill="#a6d3e6"/>
<rect x="1" y="12" width="1" height="3" fill="#a6d3e6"/>
<rect x="2" y="-2" width="1" height="4" fill="#a6d3e6"/>
<rect x="2" y="12" width="1" height="4" fill="#a6d3e6"/>
<rect x="3" y="-2" width="1" height="4" fill="#a6d3e6"/>
<rect x="3" y="12" width="1" height="4" fill="#a6d3e6"/>
<rect x="4" y="-2" width="1" height="4" fill="#a6d3e6"/>
<rect x="4" y="12" width="1" height="4" fill="#a6d3e6"/>
<rect x="5" y="-2" width="1" height="4" fill="#a6d3e6"/>
<rect x="5" y="12" width="1" height="3" fill="#a6d3e6"/>
<rect x="6" y="-2" width="1" height="4" fill="#a6d3e6"/>
<rect x="6" y="12" width="1" height="3" fill="#a6d3e6"/>
<rect x="7" y="-2" width="1" height="4" fill="#a6d3e6"/>
<rect x="7" y="12" width="1" height="3" fill="#a6d3e6"/>
<rect x="8" y="-2" width="1" height="4" fill="#a6d3e6"/>
<rect x="8" y="12" width="1" height="3" fill="#a6d3e6"/>
<rect x="9" y="-2" width="1" height="4" fill="#a6d3e6"/>
<rect x="9" y="12" width="1" height="3" fill="#a6d3e6"/>
<rect x="10" y="-2" width="1" height="4" fill="#a6d3e6"/>
<rect x="10" y="12" width="1" height="3" fill="#a6d3e6"/>
<rect x="10" y="38" width="1" height="7" fill="#a6d3e6"/>
<rect x="11" y="-2" width="1" height="4" fill="#a6d3e6"/>
<rect x="11" y="12" width="1" height="3" fill="#a6d3e6"/>
<rect x="11" y="32" width="1" height="1" fill="#a6d3e6"/>
<rect x="11" y="35" width="1" height="10" fill="#a6d3e6"/>
<rect x="12" y="-2" width="1" height="4" fill="#a6d3e6"/>
<rect x="12" y="12" width="1" height="3" fill="#a6d3e6"/>
<rect x="12" y="31" width="1" height="12" fill="#a6d3e6"/>
<rect x="13" y="-2" width="1" height="4" fill="#a6d3e6"/>
<rect x="13" y="11" width="1" height="4" fill="#a6d3e6"/>
<rect x="13" y="24" width="1" height="2" fill="#a6d3e6"/>
<rect x="13" y="27" width="1" height="13" fill="#a6d3e6"/>
<rect x="14" y="-2" width="1" height="4" fill="#a6d3e6"/>
<rect x="14" y="11" width="1" height="4" fill="#a6d3e6"/>
<rect x="14" y="24" width="1" height="10" fill="#a6d3e6"/>
<rect x="15" y="-2" width="1" height="4" fill="#a6d3e6"/>
<rect x="15" y="11" width="1" height="3" fill="#a6d3e6"/>
<rect x="15" y="17" width="1" height="2" fill="#a6d3e6"/>
<rect x="15" y="20" width="1" height="10" fill="#a6d3e6"/>
<rect x="15" y="31" width="1" height="2" fill="#a6d3e6"/>
<rect x="16" y="-2" width="1" height="4" fill="#a6d3e6"/>
<rect x="16" y="11" width="1" height="3" fill="#a6d3e6"/>
<rect x="16" y="16" width="1" height="11" fill="#a6d3e6"/>
<rect x="17" y="-2" width="1" height="4" fill="#a6d3e6"/>
<rect x="17" y="10" width="1" height="13" fill="#a6d3e6"/>
<rect x="17" y="24" width="1" height="2" fill="#a6d3e6"/>
<rect x="18" y="-2" width="1" height="4" fill="#a6d3e6"/>
<rect x="18" y="8" width="1" height="11" fill="#a6d3e6"/>
<rect x="19" y="-2" width="1" height="4" fill="#a6d3e6"/>
<rect x="19" y="3" width="1" height="12" fill="#a6d3e6"/>
<rect x="19" y="17" width="1" height="1" fill="#a6d3e6"/>
<rect x="20" y="-2" width="1" height="16" fill="#a6d3e6"/>
<rect x="21" y="-2" width="1" height="9" fill="#a6d3e6"/>
<rect x="21" y="10" width="1" height="4" fill="#a6d3e6"/>
<rect x="22" y="-2" width="1" height="7" fill="#a6d3e6"/>
<rect x="22" y="11" width="1" height="3" fill="#a6d3e6"/>
<path d="M-1 -2V45M0 -2V45M1 -2V45M2 -2V45M3 -2V45M4 -2V45M5 -2V45M6 -2V45M7 -2V45M8 -2V45M9 -2V45M10 -2V45M11 -2V45M12 -2V45M13 -2V45M14 -2V45M15 -2V45M16 -2V45M17 -2V45M18 -2V45M19 -2V45M20 -2V45M21 -2V45M22 -2V45M23 -2V45M-1 -2H23M-1 -1H23M-1 0H23M-1 1H23M-1 2H23M-1 3H23M-1 4H23M-1 5H23M-1 6H23M-1 7H23M-1 8H23M-1 9H23M-1 10H23M-1 11H23M-1 12H23M-1 13H23M-1 14H23M-1 15H23M-1 16H23M-1 17H23M-1 18H23M-1 19H23M-1 20H23M-1 21H23M-1 22H23M-1 23H23M-1 24H23M-1 25H23M-1 26H23M-1 27H23M-1 28H23M-1 29H23M-1 30H23M-1 31H23M-1 32H23M-1 33H23M-1 34H23M-1 35H23M-1 36H23M-1 37H23M-1 38H23M-1 39H23M-1 40H23M-1 41H23M-1 42H23M-1 43H23M-1 44H23M-1 45H23" stroke="#ffffff" stroke-width="1.1" fill="none" vector-effect="non-scaling-stroke"/>
</g></g>
<polygon points="37.0,314.0 407.7,199.7 454.0,182.0 540.0,247.0 221.0,436.0" fill="none" stroke="#1c1c1c" stroke-width="1.8" stroke-linejoin="miter"/>
<g opacity="0.6"><line x1="220.5" y1="436" x2="220.5" y2="752" stroke="#5c5c5c" stroke-width="1.2" stroke-dasharray="13 6" opacity="1"/></g>
<g transform="translate(366.7 332) rotate(-29)"><rect x="-47.5" y="-14.5" width="95" height="29" rx="11" fill="#b9b9bc" transform="translate(0.8 1.4)"/><rect x="-47.5" y="-14.5" width="95" height="29" rx="11" fill="#e7e7e9" stroke="#8d8d8d" stroke-width="1.1" stroke-dasharray="26 2"/><text x="0" y="7.455" font-size="21" text-anchor="middle" fill="#161616" letter-spacing="1.0">Privacy</text></g>
<g transform="translate(372.3 482.6) rotate(-28.7)"><rect x="-69.5" y="-15.0" width="139" height="30" rx="11" fill="#b9b9bc" transform="translate(0.8 1.4)"/><rect x="-69.5" y="-15.0" width="139" height="30" rx="11" fill="#e7e7e9" stroke="#8d8d8d" stroke-width="1.1" stroke-dasharray="26 2"/><text x="0" y="7.455" font-size="21" text-anchor="middle" fill="#161616" letter-spacing="1.5">Vegetation</text></g>
<g transform="translate(381 640) rotate(-28)"><rect x="-84.0" y="-15.0" width="168" height="30" rx="11" fill="#b9b9bc" transform="translate(0.8 1.4)"/><rect x="-84.0" y="-15.0" width="168" height="30" rx="11" fill="#e7e7e9" stroke="#8d8d8d" stroke-width="1.1" stroke-dasharray="26 2"/><text x="0" y="7.2775" font-size="20.5" text-anchor="middle" fill="#161616" letter-spacing="1.3">Slope Analysis</text></g>
<g transform="translate(443.6 910.2) rotate(-28.5)"><rect x="-68.5" y="-15.0" width="137" height="30" rx="11" fill="#b9b9bc" transform="translate(0.8 1.4)"/><rect x="-68.5" y="-15.0" width="137" height="30" rx="11" fill="#e7e7e9" stroke="#8d8d8d" stroke-width="1.1" stroke-dasharray="26 2"/><text x="0" y="7.2775" font-size="20.5" text-anchor="middle" fill="#161616" letter-spacing="1.6">Site Zoning</text></g>
<clipPath id="fm"><rect x="636" y="182" width="552" height="384"/></clipPath>
<g clip-path="url(#fm)">
<rect x="636" y="182" width="552" height="384" fill="#f2efe9"/>
<polygon points="1085.0,462.0 1120.0,453.0 1135.0,490.0 1188.0,515.0 1188.0,566.0 1040.0,566.0 1040.0,540.0 1085.0,540.0" fill="#aad3df"/>
<polygon points="976.0,555.0 1075.0,555.0 1090.0,566.0 976.0,566.0" fill="#eef0d8"/>
<polygon points="1040.0,546.0 1085.0,548.0 1100.0,566.0 1075.0,566.0 1060.0,555.0 1040.0,555.0" fill="#aad3df"/>
<polygon points="984.0,192.0 996.0,192.0 984.0,214.0 975.0,238.0 972.0,262.0 940.0,266.0 938.0,250.0 955.0,240.0" fill="#aad3df"/>
<path d="M950 254 L975 262 L1005 268 L1032 271 M1115 258 L1135 252" stroke="#aad3df" stroke-width="7" fill="none"/>
<path d="M1027.5 270 V296" stroke="#aad3df" stroke-width="4" fill="none"/>
<path d="M1148 217 L1170 222 L1188 212" stroke="#aad3df" stroke-width="6" fill="none"/>
<filter id="bl" x="-5%" y="-5%" width="110%" height="110%"><feGaussianBlur stdDeviation="1.0"/></filter><g filter="url(#bl)">
<path d="M1003 240 L1008 219 L1030 203 L1060 200.5 L1090 197 L1107 186 L1120 180" stroke="#d6cec6" stroke-width="10" fill="none" stroke-linecap="round" stroke-linejoin="round"/>
<path d="M1136 178 L1141 210 L1151 243 L1166 281 L1175 311 L1182 348 L1184 372 L1176 392 L1148 392 L1147 412 L1160 427 L1172 462 L1192 466" stroke="#d6cec6" stroke-width="15" fill="none" stroke-linecap="round" stroke-linejoin="round"/>
<path d="M1000 259 L1040 265 L1088 259 L1116 251 L1143 241" stroke="#d6cec6" stroke-width="11" fill="none" stroke-linecap="round" stroke-linejoin="round"/>
<path d="M997 327 L1018 320 L1040 308 L1085 286 L1116 278 L1152 275" stroke="#d6cec6" stroke-width="11" fill="none" stroke-linecap="round" stroke-linejoin="round"/>
<path d="M1104 320 L1158 320" stroke="#d6cec6" stroke-width="10" fill="none" stroke-linecap="round" stroke-linejoin="round"/>
<path d="M1160 236 L1190 232" stroke="#d6cec6" stroke-width="10" fill="none" stroke-linecap="round" stroke-linejoin="round"/>
<path d="M1150 372 L1192 372" stroke="#d6cec6" stroke-width="24" fill="none" stroke-linecap="round" stroke-linejoin="round"/>
<path d="M1003 240 L1008 219 L1030 203 L1060 200.5 L1090 197 L1107 186 L1120 180" stroke="#ffffff" stroke-width="8" fill="none" stroke-linecap="round" stroke-linejoin="round"/>
<path d="M1136 178 L1141 210 L1151 243 L1166 281 L1175 311 L1182 348 L1184 372 L1176 392 L1148 392 L1147 412 L1160 427 L1172 462 L1192 466" stroke="#ffffff" stroke-width="13" fill="none" stroke-linecap="round" stroke-linejoin="round"/>
<path d="M1000 259 L1040 265 L1088 259 L1116 251 L1143 241" stroke="#ffffff" stroke-width="9" fill="none" stroke-linecap="round" stroke-linejoin="round"/>
<path d="M997 327 L1018 320 L1040 308 L1085 286 L1116 278 L1152 275" stroke="#ffffff" stroke-width="9" fill="none" stroke-linecap="round" stroke-linejoin="round"/>
<path d="M1104 320 L1158 320" stroke="#ffffff" stroke-width="8" fill="none" stroke-linecap="round" stroke-linejoin="round"/>
<path d="M1160 236 L1190 232" stroke="#ffffff" stroke-width="8" fill="none" stroke-linecap="round" stroke-linejoin="round"/>
<path d="M1150 372 L1192 372" stroke="#ffffff" stroke-width="22" fill="none" stroke-linecap="round" stroke-linejoin="round"/>
<path d="M995.8 195.8h6v6h-6zM1003.0 199.2h9v9h-9zM1062.2 188.5h8v8h-8zM1114.0 187.8h7v7h-7zM1143.2 187.0h6v6h-6zM1160.5 185.5h9v9h-9zM1171.0 191.0h8v8h-8zM1180.2 204.0h7v7h-7zM1038.2 218.2h6v6h-6zM1085.5 213.0h9v9h-9zM1013.5 218.5h8v8h-8zM992.8 231.5h7v7h-7zM1018.2 239.5h6v6h-6zM1043.0 235.5h9v9h-9zM1057.2 234.8h8v8h-8zM1122.8 221.5h7v7h-7zM985.8 252.0h6v6h-6zM1015.5 246.8h9v9h-9zM1067.2 246.0h8v8h-8zM1084.0 244.0h7v7h-7zM982.0 270.8h6v6h-6zM993.0 270.5h9v9h-9zM989.8 282.2h8v8h-8zM967.8 291.5h7v7h-7zM978.2 295.8h6v6h-6zM991.8 291.8h9v9h-9zM1004.8 293.5h8v8h-8zM985.2 301.5h7v7h-7zM979.5 315.8h6v6h-6zM994.2 314.2h9v9h-9zM1091.0 266.0h8v8h-8zM1079.0 270.2h7v7h-7zM1064.5 270.8h6v6h-6zM1119.2 254.2h9v9h-9zM1136.0 244.8h8v8h-8zM1166.5 234.0h7v7h-7zM1169.5 254.5h6v6h-6zM1179.2 260.5h9v9h-9zM1179.8 278.5h8v8h-8zM1091.5 287.8h7v7h-7zM1137.0 287.0h6v6h-6zM1035.5 315.5h9v9h-9zM1064.8 308.5h8v8h-8zM1081.5 314.0h7v7h-7zM1067.0 320.8h6v6h-6zM1108.0 325.5h9v9h-9zM1068.5 337.2h8v8h-8zM1086.5 331.5h7v7h-7zM1045.8 342.0h6v6h-6zM1000.5 335.5h9v9h-9zM986.0 338.5h8v8h-8zM1116.5 350.2h7v7h-7zM1153.2 349.5h6v6h-6zM1086.8 356.8h9v9h-9zM1033.5 372.2h8v8h-8zM1087.8 359.0h7v7h-7zM1034.0 373.2h6v6h-6zM1035.5 413.8h9v9h-9zM1146.0 466.0h8v8h-8zM1156.5 455.2h7v7h-7zM1167.0 467.0h6v6h-6zM1146.8 471.8h9v9h-9zM1164.8 456.0h8v8h-8z" fill="#cdc1b6"/>
<polygon points="1081.2,428.8 1100.0,422.5 1117.5,416.2 1135.0,413.8 1135.0,427.5 1117.5,435.0 1102.5,438.8 1085.0,436.2" fill="#cfc5bc"/>
<polygon points="1142.5,405.0 1150.0,410.0 1156.2,422.5 1143.8,425.5" fill="#d6cbc1"/>
<path d="M1022 329h7v2h-7zM1036 332h3v2h-3zM1120 250h5v2h-5zM1133 245h4v2h-4z" fill="#f05050"/>
<path d="M990 259h6v4h-6zM1053 262h8v4h-8z" fill="#4a55b0"/>
</g>
<text x="1070" y="397.5" font-size="30" fill="#808080" stroke="#ffffff" stroke-width="3.5" filter="url(#bl)" paint-order="stroke" stroke-linejoin="round" letter-spacing="0.8">Kudaveechoor</text>
<polygon points="935.0,321.0 947.0,321.0 947.0,324.0 975.0,326.0 975.0,388.5 922.5,388.5 922.5,365.0 929.0,365.0 929.0,337.0 935.0,337.0" fill="#cfe4b2"/>
<polygon points="929.2,297.5 930.0,301.7 930.0,335.8 921.7,336.7 921.7,390.8 900.8,391.7 900.8,433.3 926.7,433.3 954.0,407.5 1017.5,407.5 1034.0,435.0 1062.0,452.0 1062.0,460.0 976.0,450.0 883.3,433.3" fill="#7678be"/>
<polygon points="636.0,182.0 990.0,182.0 990.0,199.0 981.0,207.0 970.0,216.0 961.0,228.0 961.0,242.0 968.0,247.0 966.0,257.0 953.0,247.0 941.0,255.0 941.0,264.0 934.0,284.0 929.2,297.5 883.3,433.3 976.7,447.5 1060.0,456.7 1080.0,461.0 1100.0,470.0 1125.0,485.0 1147.5,510.0 1151.0,535.0 1141.0,546.0 1117.5,556.0 1085.0,553.5 1085.0,546.0 1042.0,546.0 1042.0,556.0 976.0,556.0 976.0,566.0 636.0,566.0" fill="#5967b1"/>
<polygon points="987.5,507.5 1042.0,547.0 1042.0,555.0 979.0,555.0" fill="#7678be"/>
<ellipse cx="966" cy="432.5" rx="5" ry="2" fill="#fff"/>
<path d="M934.2 330.0H940.8M957.5 332.8H970.8M957.5 346.7H970.8M930.0 351.7H947.5M927.5 368.0H945.8M957.5 371.2H970.8M919.2 381.7H932.5M960.0 384.7H970.8M935.0 406.3H953.3M962.5 403.7H980.8M998.3 403.7H1016.7M900.0 408.7H910.0M908.3 419.7H926.7M1041.7 400.8H1046.7M1023.3 417.5H1035.0M1035.8 436.3H1043.3" stroke="#4f97dc" stroke-width="2.2" fill="none"/>
<path d="M988.3 414.2H1005.0M955.0 420.0H973.3M933.3 428.0H950.8M981.7 428.0H1000.0M949.2 438.3H966.7M981.7 444.7H1000.0M1008.3 434.2H1033.3" stroke="#4468bd" stroke-width="2.2" fill="none"/>
<path d="M992.5 523.8H1000.0M995.0 534.2H1013.8M990.0 545.5H1007.5M1022.5 545.5H1038.8M1031.2 555.5H1048.8M992.5 561.5H1010.0" stroke="#4b7bd0" stroke-width="2.2" fill="none"/>
<text transform="translate(1088 532) rotate(33)" font-size="30" font-style="italic" fill="#4a5fb5" opacity="0.9">Meenachil</text>
<polygon points="929.2,297.5 977.5,308.3 976.7,447.5 883.3,433.3" fill="none" stroke="#1c2b38" stroke-width="2.6" stroke-dasharray="7 3.5"/>
</g>
<defs>
<radialGradient id="eg1"><stop offset="0" stop-color="#9bd874" stop-opacity="0.95"/><stop offset="1" stop-color="#9bd874" stop-opacity="0"/></radialGradient>
<radialGradient id="eg2"><stop offset="0" stop-color="#8fd59a" stop-opacity="0.8"/><stop offset="1" stop-color="#8fd59a" stop-opacity="0"/></radialGradient>
<radialGradient id="eg3"><stop offset="0" stop-color="#80d0b8" stop-opacity="0.75"/><stop offset="1" stop-color="#80d0b8" stop-opacity="0"/></radialGradient>
<radialGradient id="eg4"><stop offset="0" stop-color="#b2e2f0" stop-opacity="0.8"/><stop offset="1" stop-color="#b2e2f0" stop-opacity="0"/></radialGradient>
<pattern id="dots" width="5" height="4" patternUnits="userSpaceOnUse"><path d="M0.5 1h2M3 3h1.5" stroke="#6fb9cf" stroke-width="0.6" opacity="0.7"/></pattern>
<clipPath id="em"><rect x="689" y="621" width="499" height="409"/></clipPath>
</defs>
<g clip-path="url(#em)">
<rect x="689" y="621" width="499" height="409" fill="#7bcdea"/>
<ellipse cx="965" cy="690" rx="75" ry="120" fill="url(#eg3)"/>
<ellipse cx="935" cy="800" rx="45" ry="110" fill="url(#eg3)" opacity="0.6"/>
<polygon points="980.0,621.0 1188.0,621.0 1188.0,975.0 1150.0,957.5 1130.0,920.0 1115.0,919.0 1080.0,929.0 970.5,912.5 900.0,901.0 866.5,896.0 923.0,764.0 934.0,705.0 960.0,704.0" fill="#a2dbee"/>
<polygon points="980.0,977.5 1062.5,1030.0 971.0,1030.0" fill="#a0dbee"/>
<clipPath id="eland"><polygon points="980.0,621.0 1188.0,621.0 1188.0,975.0 1150.0,957.5 1130.0,920.0 1115.0,919.0 1080.0,929.0 970.5,912.5 900.0,901.0 866.5,896.0 923.0,764.0 934.0,705.0 960.0,704.0"/><polygon points="980,977.5 1062.5,1030 971,1030"/></clipPath>
<g clip-path="url(#eland)">
<ellipse cx="1165" cy="650" rx="130" ry="120" fill="url(#eg1)"/>
<ellipse cx="1080" cy="640" rx="110" ry="70" fill="url(#eg2)"/>
<ellipse cx="1190" cy="820" rx="120" ry="170" fill="url(#eg1)" opacity="0.85"/>
<ellipse cx="1070" cy="850" rx="150" ry="55" fill="url(#eg2)"/>
<ellipse cx="960" cy="690" rx="60" ry="90" fill="url(#eg2)" opacity="0.8"/>
<ellipse cx="950" cy="815" rx="55" ry="60" fill="url(#eg2)" opacity="0.5"/>
<ellipse cx="1040" cy="765" rx="60" ry="55" fill="url(#eg4)"/>
<ellipse cx="1090" cy="925" rx="70" ry="30" fill="url(#eg4)"/>
</g>
<ellipse cx="1085" cy="1005" rx="45" ry="35" fill="url(#eg2)" opacity="0.25"/>
<polygon points="923.5,763.4 969,771.6 969,842 897,846" fill="#86cfa6" opacity="0.55"/>
<polygon points="905.0,858.0 1045.0,850.0 1045.0,915.0 970.0,912.0 868.0,895.0" fill="url(#dots)"/>
<polygon points="985.0,985.0 1050.0,1028.0 975.0,1028.0" fill="url(#dots)"/>
<polygon points="925.0,770.0 968.0,776.0 968.0,845.0 900.0,850.0" fill="url(#dots)" opacity="0.6"/>
<path d="M962 705 L1000 708 L1045 712 L1100 700 L1150 678 L1188 655 M1140 621 L1160 660 L1178 720 L1186 790 M900 853 L970 848 L1045 845 L1120 840 L1170 838 M1025 712 L1027 745 L1012 770 L1008 790" stroke="#8fd0cf" stroke-width="1.6" fill="none" opacity="0.8"/>
<path d="M962 705 L1000 709 L1045 712 L1100 700 L1150 679 L1188 656" stroke="#83cfc4" stroke-width="4" fill="none" opacity="0.55"/>
<path d="M990.2 630.2h7v7h-7zM1001.2 636.2h5v5h-5zM1018.0 640.5h9v9h-9zM1008.8 655.0h10v10h-10zM1037.8 655.2h7v7h-7zM1066.8 641.8h9v9h-9zM1090.5 650.5h9v9h-9zM1067.5 626.2h5v5h-5zM1122.8 622.8h7v7h-7zM1154.0 620.2h7v7h-7zM1132.0 662.0h6v6h-6zM987.8 671.5h7v7h-7zM1015.2 679.0h7v7h-7zM1016.2 690.5h5v5h-5zM1045.8 677.0h6v6h-6zM1060.0 676.2h5v5h-5zM1071.0 689.8h8v8h-8zM1089.8 686.0h8v8h-8zM979.2 693.0h9v9h-9zM1008.2 696.5h6v6h-6zM1025.0 699.5h5v5h-5zM1042.0 697.0h6v6h-6zM1053.5 694.0h7v7h-7zM1143.8 686.2h10v10h-10zM1125.2 697.8h7v7h-7zM1133.2 697.0h6v6h-6zM1174.5 698.2h6v6h-6zM1181.2 672.5h5v5h-5zM975.8 714.5h6v6h-6zM989.5 716.5h6v6h-6zM985.0 728.2h6v6h-6zM960.5 739.2h4v4h-4zM973.0 743.5h4v4h-4zM983.8 742.0h5v5h-5zM991.5 740.0h6v6h-6zM1002.8 741.0h7v7h-7zM980.0 750.5h5v5h-5zM991.5 764.5h7v7h-7zM972.5 766.2h5v5h-5zM981.2 792.0h5v5h-5zM998.0 790.5h5v5h-5zM1017.5 758.8h5v5h-5zM1029.0 748.2h7v7h-7zM1035.8 767.0h6v6h-6zM1060.0 741.5h6v6h-6zM1067.2 711.0h8v8h-8zM1082.8 712.0h7v7h-7zM1090.0 719.5h5v5h-5zM1099.0 711.0h7v7h-7zM1125.0 714.0h6v6h-6zM1096.8 731.8h9v9h-9zM1148.5 733.0h8v8h-8zM1167.8 746.5h7v7h-7zM1068.8 758.8h5v5h-5zM1070.5 771.8h5v5h-5zM1088.0 763.8h5v5h-5zM1113.5 775.2h7v7h-7zM1092.5 783.2h6v6h-6zM1069.8 789.0h8v8h-8zM1046.5 794.0h7v7h-7zM1126.0 805.2h7v7h-7zM1094.5 813.2h6v6h-6zM1167.5 802.5h6v6h-6zM1176.0 776.0h8v8h-8zM1034.0 829.0h6v6h-6z" fill="#79c9c4" opacity="0.6"/>
<path d="M1033.8 829.5h5v5h-5zM1152.5 925.0h5v5h-5zM1161.2 925.0h5v5h-5zM1170.5 919.5h5v5h-5zM1178.8 934.5h5v5h-5zM1160.5 939.5h5v5h-5zM1182.5 916.2h5v5h-5zM1183.8 926.2h5v5h-5z" fill="#79c9c4" opacity="0.6"/>
<polygon points="1086.2,892.5 1107.5,885.0 1126.2,876.2 1166.2,871.2 1167.5,881.2 1140.0,891.2 1125.0,898.8 1110.0,900.0 1090.0,898.0" fill="#7cc9b4" opacity="0.55"/>
<polygon points="1173.8,832.5 1187.5,827.5 1187.5,862.5 1175.0,860.0" fill="#7cc77a" opacity="0.6"/>
<text transform="translate(945 856) rotate(-3)" font-size="3.6" fill="#3f8f86" opacity="0.8">Church Road</text>
<text transform="translate(1085 846) rotate(-3)" font-size="3.6" fill="#3f8f86" opacity="0.8">Church Road</text>
<text transform="translate(943 941) rotate(12)" font-size="3.6" fill="#5aa9c8" opacity="0.8">Vembanad Lake</text>
<text transform="translate(765 900) rotate(12)" font-size="3.6" fill="#5aa9c8" opacity="0.8">Vembanad Lake</text>
<text transform="translate(1115 1013) rotate(30)" font-size="3.6" fill="#5aa9c8" opacity="0.8">Vembanad Lake</text>
<text transform="translate(1138 862) rotate(0)" font-size="3.2" fill="#2f8f6a" opacity="0.8">Marth</text>
<text transform="translate(1136 866.5) rotate(0)" font-size="3.2" fill="#2f8f6a" opacity="0.8">Syrenady</text>
<text transform="translate(1137 871) rotate(0)" font-size="3.2" fill="#2f8f6a" opacity="0.8">Hospital</text>
<text transform="translate(1110 883) rotate(0)" font-size="3.2" fill="#5aa79a" opacity="0.8">St. Joseph's</text>
<text transform="translate(1113 887.5) rotate(0)" font-size="3.2" fill="#5aa79a" opacity="0.8">Hospital</text>
<text transform="translate(1113 892) rotate(0)" font-size="3.2" fill="#5aa79a" opacity="0.8">Vechoor</text>
<text transform="translate(1150 882) rotate(0)" font-size="3.2" fill="#5aa79a" opacity="0.8">St. Carmel</text>
<text transform="translate(1145 886.5) rotate(0)" font-size="3.2" fill="#5aa79a" opacity="0.8">UCK, Vechoor</text>
<text transform="translate(1160 629) rotate(0)" font-size="3.2" fill="#5aa79a" opacity="0.8">Sunny</text>
<text transform="translate(1159 633.5) rotate(0)" font-size="3.2" fill="#5aa79a" opacity="0.8">Shop 385</text>
<text transform="translate(1160 638) rotate(0)" font-size="3.2" fill="#5aa79a" opacity="0.8">Number</text>
<circle cx="1147.5" cy="855.5" r="2" fill="none" stroke="#2a9a58" stroke-width="1.3"/>
<polygon points="923.5,763.4 969,771.6 969,910.8 877.6,897.2" fill="none" stroke="#1b2a3a" stroke-width="3" stroke-dasharray="6.5 4"/>
</g>
<clipPath id="lg"><path d="M637 1030 V625 a4 4 0 0 1 4 -4 H681.5 a4 4 0 0 1 4 4 V1030 z"/></clipPath>
<g clip-path="url(#lg)">
<rect x="637" y="620.80" width="48.5" height="20.85" fill="rgb(135,197,64)"/>
<rect x="637" y="641.25" width="48.5" height="20.85" fill="rgb(132,198,84)"/>
<rect x="637" y="661.70" width="48.5" height="20.85" fill="rgb(130,199,104)"/>
<rect x="637" y="682.15" width="48.5" height="20.85" fill="rgb(128,200,121)"/>
<rect x="637" y="702.60" width="48.5" height="20.85" fill="rgb(126,200,138)"/>
<rect x="637" y="723.05" width="48.5" height="20.85" fill="rgb(125,201,153)"/>
<rect x="637" y="743.50" width="48.5" height="20.85" fill="rgb(124,202,168)"/>
<rect x="637" y="763.95" width="48.5" height="20.85" fill="rgb(124,203,178)"/>
<rect x="637" y="784.40" width="48.5" height="20.85" fill="rgb(124,204,188)"/>
<rect x="637" y="804.85" width="48.5" height="20.85" fill="rgb(133,208,194)"/>
<rect x="637" y="825.30" width="48.5" height="20.85" fill="rgb(128,208,206)"/>
<rect x="637" y="845.75" width="48.5" height="20.85" fill="rgb(124,208,218)"/>
<rect x="637" y="866.20" width="48.5" height="20.85" fill="rgb(114,205,232)"/>
<rect x="637" y="886.65" width="48.5" height="20.85" fill="rgb(96,199,240)"/>
<rect x="637" y="907.10" width="48.5" height="20.85" fill="rgb(90,197,241)"/>
<rect x="637" y="927.55" width="48.5" height="20.85" fill="rgb(84,195,242)"/>
<rect x="637" y="948.00" width="48.5" height="20.85" fill="rgb(83,194,242)"/>
<rect x="637" y="968.45" width="48.5" height="20.85" fill="rgb(82,194,242)"/>
<rect x="637" y="988.90" width="48.5" height="20.85" fill="rgb(80,194,242)"/>
<rect x="637" y="1009.35" width="48.5" height="20.85" fill="rgb(79,193,242)"/>
</g>
<path d="M637 1030 V625 a4 4 0 0 1 4 -4 H681.5 a4 4 0 0 1 4 4 V1030" fill="none" stroke="#2c7a48" stroke-width="1.3"/>
<text x="661.5" y="635.7" font-size="12" text-anchor="middle" fill="#0c3f27" letter-spacing="0.3" stroke="#0c3f27" stroke-width="0.25">10 m</text>
<text x="661.5" y="656.2" font-size="12" text-anchor="middle" fill="#0c3f27" letter-spacing="0.3" stroke="#0c3f27" stroke-width="0.25">9 m</text>
<text x="661.5" y="676.6" font-size="12" text-anchor="middle" fill="#0c3f27" letter-spacing="0.3" stroke="#0c3f27" stroke-width="0.25">9 m</text>
<text x="661.5" y="697.1" font-size="12" text-anchor="middle" fill="#0c3f27" letter-spacing="0.3" stroke="#0c3f27" stroke-width="0.25">8 m</text>
<text x="661.5" y="717.5" font-size="12" text-anchor="middle" fill="#0c3f27" letter-spacing="0.3" stroke="#0c3f27" stroke-width="0.25">8 m</text>
<text x="661.5" y="738.0" font-size="12" text-anchor="middle" fill="#0c3f27" letter-spacing="0.3" stroke="#0c3f27" stroke-width="0.25">7 m</text>
<text x="661.5" y="758.4" font-size="12" text-anchor="middle" fill="#0c3f27" letter-spacing="0.3" stroke="#0c3f27" stroke-width="0.25">7 m</text>
<text x="661.5" y="778.9" font-size="12" text-anchor="middle" fill="#0c3f27" letter-spacing="0.3" stroke="#0c3f27" stroke-width="0.25">6 m</text>
<text x="661.5" y="799.3" font-size="12" text-anchor="middle" fill="#0c3f27" letter-spacing="0.3" stroke="#0c3f27" stroke-width="0.25">6 m</text>
<text x="661.5" y="819.8" font-size="12" text-anchor="middle" fill="#0c3f27" letter-spacing="0.3" stroke="#0c3f27" stroke-width="0.25">5 m</text>
<text x="661.5" y="840.2" font-size="12" text-anchor="middle" fill="#0c3f27" letter-spacing="0.3" stroke="#0c3f27" stroke-width="0.25">4 m</text>
<text x="661.5" y="860.7" font-size="12" text-anchor="middle" fill="#0c3f27" letter-spacing="0.3" stroke="#0c3f27" stroke-width="0.25">4 m</text>
<text x="661.5" y="881.1" font-size="12" text-anchor="middle" fill="#0c3f27" letter-spacing="0.3" stroke="#0c3f27" stroke-width="0.25">3 m</text>
<text x="661.5" y="901.6" font-size="12" text-anchor="middle" fill="#0c3f27" letter-spacing="0.3" stroke="#0c3f27" stroke-width="0.25">2 m</text>
<text x="661.5" y="922.0" font-size="12" text-anchor="middle" fill="#0c3f27" letter-spacing="0.3" stroke="#0c3f27" stroke-width="0.25">2 m</text>
<text x="661.5" y="942.5" font-size="12" text-anchor="middle" fill="#0c3f27" letter-spacing="0.3" stroke="#0c3f27" stroke-width="0.25">1 m</text>
<text x="661.5" y="962.9" font-size="12" text-anchor="middle" fill="#0c3f27" letter-spacing="0.3" stroke="#0c3f27" stroke-width="0.25">0 m</text>
<text x="661.5" y="983.4" font-size="12" text-anchor="middle" fill="#0c3f27" letter-spacing="0.3" stroke="#0c3f27" stroke-width="0.25">0 m</text>
<text x="661.5" y="1003.8" font-size="12" text-anchor="middle" fill="#0c3f27" letter-spacing="0.3" stroke="#0c3f27" stroke-width="0.25">-1 m</text>
<text x="661.5" y="1024.3" font-size="12" text-anchor="middle" fill="#0c3f27" letter-spacing="0.3" stroke="#0c3f27" stroke-width="0.25">-2 m</text>
</svg>
</body></html>
